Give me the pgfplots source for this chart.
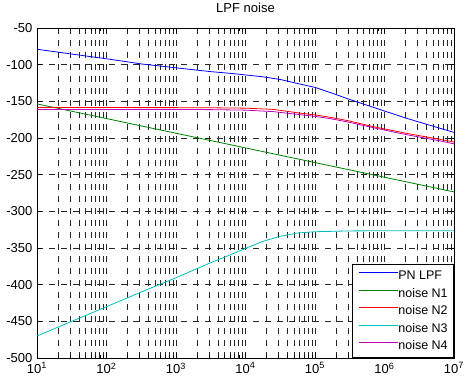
\documentclass[border=0pt]{standalone}
\usepackage{fontspec}
\setmainfont{Liberation Sans}
\usepackage{pgfplots}
\pgfplotsset{compat=1.18}
\definecolor{mblue}{rgb}{0,0,1}
\definecolor{mgreen}{rgb}{0,0.5,0}
\definecolor{mred}{rgb}{1,0,0}
\definecolor{mcyan}{rgb}{0,0.75,0.75}
\definecolor{mmag}{rgb}{0.75,0,0.75}
\begin{document}
\fontsize{13}{15}\selectfont
\begin{tikzpicture}
\useasboundingbox (-37pt,-23pt) rectangle (429pt,358pt);
\begin{semilogxaxis}[
  scale only axis, width=417pt, height=330pt,
  at={(0pt,0pt)}, anchor=south west,
  xmin=10, xmax=1e7, ymin=-500, ymax=-50,
  xtick={10,100,1000,10000,100000,1000000,10000000},
  xticklabels={10\textsuperscript{1},10\textsuperscript{2},10\textsuperscript{3},10\textsuperscript{4},10\textsuperscript{5},10\textsuperscript{6},10\textsuperscript{7}},
  ytick={-500,-450,-400,-350,-300,-250,-200,-150,-100,-50},
  yticklabels={-500,-450,-400,-350,-300,-250,-200,-150,-100,-50},
  xticklabel style={anchor=north, inner sep=0pt, yshift=-4.5pt},
  yticklabel style={anchor=east, inner sep=0pt, xshift=-4.5pt},
  tick align=inside, major tick length=5pt, minor tick length=3pt,
  tick style={black, line width=0.5pt},
  axis line style={black, line width=0.8pt},
  xmajorgrids, xminorgrids, ymajorgrids,
  grid style={black!85, line width=0.6pt, dash pattern=on 6pt off 6pt},
  minor grid style={black!85, line width=0.6pt, dash pattern=on 6pt off 6pt},
  title={LPF noise},
  title style={at={(0.5,1)}, anchor=base, inner sep=0pt, yshift=9.7pt},
  legend style={at={(1,0)}, anchor=south east, draw=black, line width=0.6pt, fill=white,
    font=\fontsize{12.5}{14}\selectfont,
    inner xsep=6pt, inner ysep=6pt, row sep=6.5pt,
    nodes={inner sep=0pt, text height=9pt, text depth=2pt},
    /tikz/every even column/.append style={column sep=4pt}},
  legend cell align=left,
  legend image code/.code={\draw[#1, line width=0.8pt] (0pt,3.5pt) -- (39pt,3.5pt);},
  every axis plot/.append style={line width=0.8pt},
]
\addplot[mblue] coordinates {(10,-79) (31.62,-85.5) (100,-92) (195,-96) (316.2,-99) (1000,-104.3) (3162,-109.5) (6026,-111.8) (10000,-114) (17780,-116.5) (31620,-120.2) (54950,-125.5) (100000,-131) (166000,-138) (302000,-146.8) (691800,-158.2) (2089000,-173.2) (6310000,-186.8) (10000000,-192.3)};
\addlegendentry{PN LPF}
\addplot[mgreen] coordinates {(10,-153.5) (100,-173.5) (1000,-193.5) (10000,-213.5) (100000,-233.5) (1000000,-253.5) (10000000,-273.5)};
\addlegendentry{noise N1}
\addplot[mred] coordinates {(10,-158.5) (100,-158.5) (1000,-158.6) (3162,-158.8) (10000,-159.3) (25120,-161) (54950,-165.5) (100000,-168.5) (166000,-171.8) (302000,-176.5) (691800,-184.6) (2089000,-193.7) (6310000,-201.9) (10000000,-205.5)};
\addlegendentry{noise N2}
\addplot[mcyan] coordinates {(10,-470) (31.62,-450) (100,-430) (316.2,-410) (1000,-390.5) (3162,-370) (5623,-360.5) (10000,-350.5) (17780,-341) (31620,-334) (56230,-329.5) (100000,-327.8) (316200,-326.7) (1000000,-326.5) (10000000,-326.5)};
\addlegendentry{noise N3}
\addplot[mmag] coordinates {(10,-161) (1000,-161.1) (3162,-161.3) (10000,-162) (25120,-164) (54950,-167.7) (100000,-170.5) (166000,-173.6) (302000,-178.3) (691800,-186) (2089000,-195.5) (6310000,-204) (10000000,-208)};
\addlegendentry{noise N4}
\end{semilogxaxis}
\end{tikzpicture}
\end{document}
